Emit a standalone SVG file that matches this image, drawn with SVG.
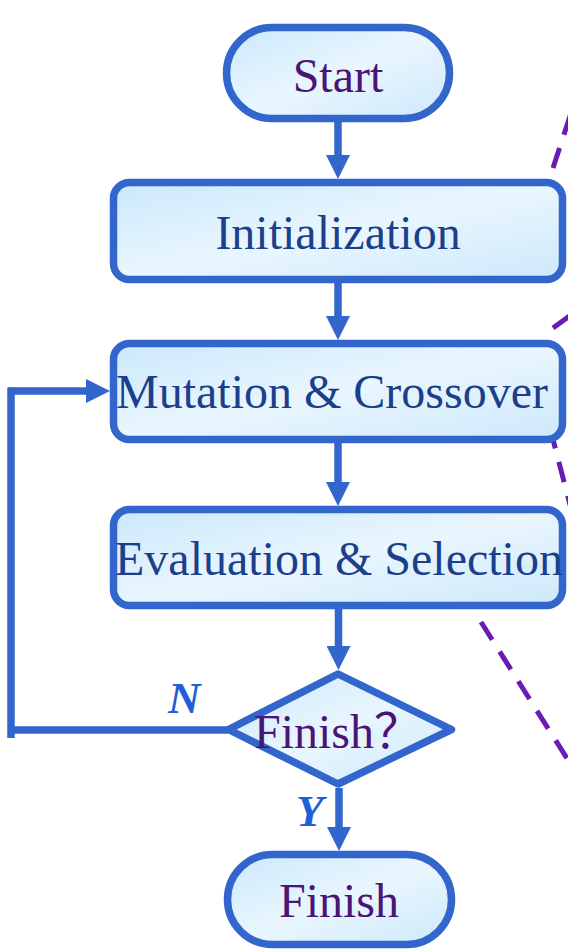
<svg xmlns="http://www.w3.org/2000/svg" width="568" height="952" viewBox="0 0 568 952">
<defs>
<linearGradient id="fill" x1="0" y1="0" x2="1" y2="1">
<stop offset="0" stop-color="#cbe8fc"/>
<stop offset="0.5" stop-color="#e9f6fe"/>
<stop offset="1" stop-color="#cde8fb"/>
</linearGradient>
<marker id="arrow" markerUnits="userSpaceOnUse" markerWidth="24" markerHeight="24" viewBox="0 0 24 24" refX="0" refY="12" orient="auto">
<path d="M0,0 L24,12 L0,24 z" fill="#3366cc"/>
</marker>
<style>
.box{fill:url(#fill);stroke:#3366cc;stroke-width:7.5}
.edge{stroke:#3366cc;stroke-width:7.5;fill:none}
.dash{stroke:#6a1bb5;stroke-width:5;fill:none;stroke-dasharray:21 14}
.lbl{font-family:"Liberation Serif","Noto Sans CJK SC",serif;font-size:48px;text-anchor:middle}
.purple{fill:#4a1577}
.blue{fill:#1c3f8c}
.yn{font-family:"Liberation Serif",serif;font-size:45px;font-weight:bold;font-style:italic;fill:#1f5fd8}
</style>
</defs>
<g id="dashed">
<path class="dash" d="M553,168 L574,104"/>
<path class="dash" d="M553,328 L578,310"/>
<path class="dash" d="M550,428 L574,520"/>
<path class="dash" d="M481,622 L585,787"/>
</g>
<g id="connectors">
<line class="edge" x1="338" y1="122" x2="338" y2="155" marker-end="url(#arrow)"/>
<line class="edge" x1="338" y1="283" x2="338" y2="316" marker-end="url(#arrow)"/>
<line class="edge" x1="338" y1="443" x2="338" y2="482" marker-end="url(#arrow)"/>
<line class="edge" x1="338.5" y1="609" x2="338.5" y2="646" marker-end="url(#arrow)"/>
<line class="edge" x1="339" y1="788" x2="339" y2="827" marker-end="url(#arrow)"/>
<line class="edge" x1="228" y1="730" x2="8" y2="730"/>
<line class="edge" x1="11" y1="738" x2="11" y2="387.5"/>
<line class="edge" x1="8" y1="391" x2="86" y2="391" marker-end="url(#arrow)"/>
<text class="yn" x="168" y="713">N</text>
<text class="yn" x="296" y="826">Y</text>
</g>
<g id="start">
<rect class="box" x="226.5" y="27.5" width="223" height="91" rx="45.5"/>
<text class="lbl purple" x="338" y="92">Start</text>
</g>
<g id="initialization">
<rect class="box" x="113.5" y="182.5" width="449" height="97" rx="16"/>
<text class="lbl blue" x="338" y="249">Initialization</text>
</g>
<g id="mutation">
<rect class="box" x="113.5" y="343.5" width="449" height="96" rx="16"/>
<text class="lbl blue" x="332" y="408">Mutation &amp; Crossover</text>
</g>
<g id="evaluation">
<rect class="box" x="113.5" y="509.5" width="449" height="96" rx="16"/>
<text class="lbl blue" x="339" y="575">Evaluation &amp; Selection</text>
</g>
<g id="decision">
<polygon class="box" points="338,674 451.5,729.5 338,784 228.5,729.5" stroke-linejoin="round"/>
<text class="lbl purple" x="338" y="748">Finish？</text>
</g>
<g id="finish">
<rect class="box" x="227.5" y="854.5" width="224" height="90" rx="45"/>
<text class="lbl purple" x="339" y="917">Finish</text>
</g>
</svg>
